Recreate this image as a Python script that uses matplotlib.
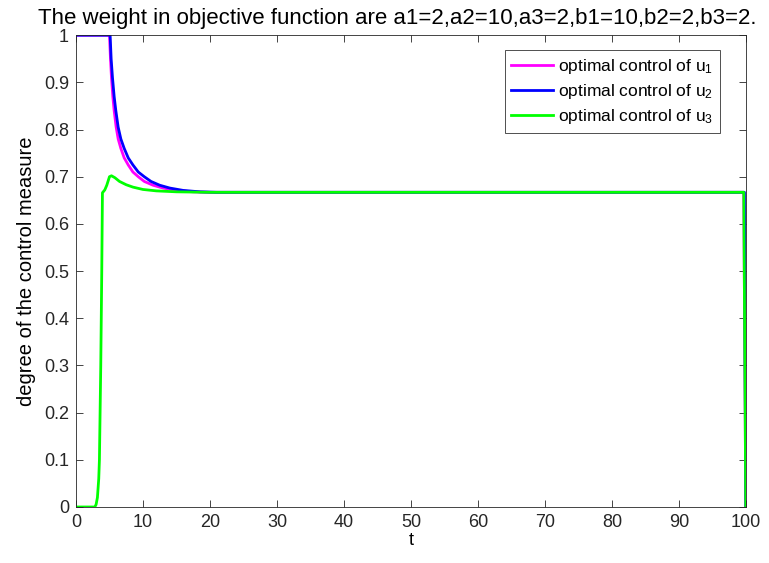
import matplotlib
matplotlib.use("Agg")
import matplotlib.pyplot as plt

plt.rcParams['font.family'] = ['Liberation Sans', 'DejaVu Sans']
plt.rcParams['mathtext.default'] = 'regular'

# values
t_u1 = [0, 5.0, 5.15, 5.3, 5.5, 5.7, 6.0, 6.3, 6.7, 7.2, 7.8, 8.5, 9.3, 10.2, 11.5, 13.0, 15.0, 17.5, 20.0, 30.0, 50.0, 80.0, 99.7, 100.0]
u1 = [1, 1.0, 0.95, 0.91, 0.87, 0.84, 0.805, 0.78, 0.76, 0.74, 0.725, 0.71, 0.70, 0.69, 0.682, 0.676, 0.671, 0.668, 0.667, 0.667, 0.667, 0.667, 0.667, 0.0]

t_u2 = [0, 5.1, 5.25, 5.45, 5.7, 5.95, 6.3, 6.7, 7.2, 7.8, 8.5, 9.3, 10.2, 11.2, 12.5, 14.0, 16.0, 18.5, 21.0, 25.0, 50.0, 80.0, 99.8, 100.0]
u2 = [1, 1.0, 0.95, 0.91, 0.87, 0.84, 0.805, 0.78, 0.76, 0.74, 0.725, 0.71, 0.70, 0.69, 0.682, 0.676, 0.671, 0.668, 0.667, 0.667, 0.667, 0.667, 0.667, 0.0]

t_u3 = [0, 2.8, 3.0, 3.2, 3.4, 3.5, 3.7, 3.85, 3.95, 4.3, 4.6, 5.0, 5.3, 5.8, 6.5, 7.5, 8.5, 10.0, 12.0, 15.0, 20.0, 50.0, 80.0, 99.7, 100.0]
u3 = [0, 0.0, 0.005, 0.02, 0.06, 0.1, 0.3, 0.5, 0.666, 0.672, 0.682, 0.70, 0.702, 0.698, 0.69, 0.683, 0.678, 0.673, 0.67, 0.668, 0.667, 0.667, 0.667, 0.667, 0.0]

fig = plt.figure(figsize=(7.69, 5.63), dpi=100)
ax = fig.add_axes([0.0988, 0.0995, 0.871, 0.838])

ax.plot(t_u1, u1, color='#ff00ff', lw=2, label='optimal control of u$_1$')
ax.plot(t_u2, u2, color='#0000ff', lw=2, label='optimal control of u$_2$')
ax.plot(t_u3, u3, color='#00ff00', lw=2, label='optimal control of u$_3$')

ax.set_xlim(0, 100)
ax.set_ylim(0, 1)
ax.set_xticks(range(0, 101, 10))
ax.set_yticks([i / 10 for i in range(11)])
ax.set_yticklabels(['0', '0.1', '0.2', '0.3', '0.4', '0.5', '0.6', '0.7', '0.8', '0.9', '1'])
ax.tick_params(direction='in', top=True, right=True, labelsize=13, length=5, width=0.6,
               colors='#262626', pad=5)
for s in ax.spines.values():
    s.set_linewidth(0.6)
    s.set_color('#262626')

ax.set_xlabel('t', fontsize=13, labelpad=1)
ax.set_ylabel('degree of the control measure', fontsize=14.5, labelpad=6)
ax.set_title('The weight in objective function are a1=2,a2=10,a3=2,b1=10,b2=2,b3=2.',
             fontsize=16, x=0.479, pad=8)

leg = ax.legend(loc='upper right', fontsize=12.5, fancybox=False, framealpha=1, edgecolor='#333333',
                bbox_to_anchor=(0.97, 0.98), handlelength=2.4, handletextpad=0.3,
                borderpad=0.4, labelspacing=0.35, borderaxespad=0.3)
leg.get_frame().set_linewidth(0.6)

fig.savefig('out.png', dpi=100)
